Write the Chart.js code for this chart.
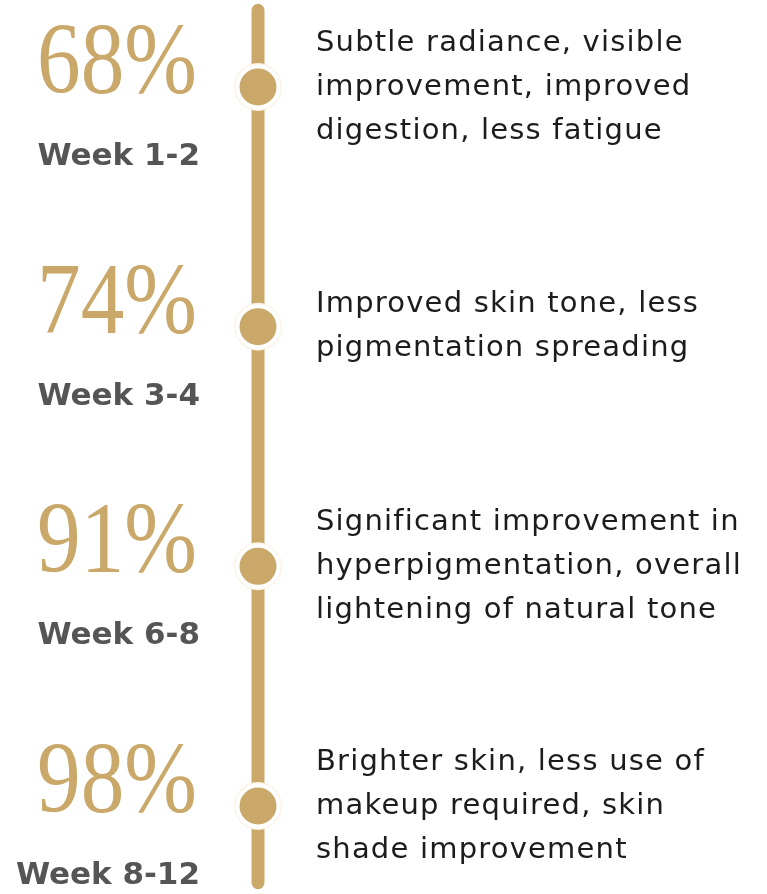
<!DOCTYPE html>
<html>
<head>
<meta charset="utf-8">
<script src="https://cdn.jsdelivr.net/npm/chart.js@4"></script>
<style>
  html, body { margin: 0; padding: 0; background: #fff; }
  #wrap { width: 767px; height: 894px; position: relative; }
</style>
</head>
<body>
<div id="wrap"><canvas id="timeline"></canvas></div>
<script>
// timeline data
const weeks = ['Week 1-2', 'Week 3-4', 'Week 6-8', 'Week 8-12'];
const percents = [68, 74, 91, 98];
const notes = [
    ['Subtle radiance, visible', 'improvement, improved', 'digestion, less fatigue'],
    ['Improved skin tone, less', 'pigmentation spreading'],
    ['Significant improvement in', 'hyperpigmentation, overall', 'lightening of natural tone'],
    ['Brighter skin, less use of', 'makeup required, skin', 'shade improvement']
];
// extent of the vertical track, in milestone units
const track = [-0.32, 3.32];

const GOLD = '#c9a86a';

const milestones = weeks.map((w, i) => ({ x: 0, y: i }));

// draws the percent, week and description next to each milestone
const labelPlugin = {
    id: 'labels',
    afterDatasetsDraw(chart) {
        const ctx = chart.ctx;
        const xs = chart.scales.x, ys = chart.scales.y;
        const cx = xs.getPixelForValue(0);
        ctx.save();
        weeks.forEach((w, i) => {
            const cy = ys.getPixelForValue(i);

            // big percentage, stretched a little to get the tall display look
            ctx.save();
            ctx.letterSpacing = '0px';
            ctx.translate(cx - 61, cy + 6);
            ctx.scale(0.97, 1.12);
            ctx.textAlign = 'right';
            ctx.textBaseline = 'alphabetic';
            ctx.fillStyle = GOLD;
            ctx.font = '90px "Liberation Serif", serif';
            ctx.fillText(percents[i] + '%', 0, 0);
            ctx.restore();

            ctx.letterSpacing = '0px';
            ctx.textAlign = 'right';
            ctx.textBaseline = 'alphabetic';
            ctx.fillStyle = '#555555';
            ctx.font = 'bold 31px "DejaVu Sans", sans-serif';
            ctx.fillText(w, cx - 58, cy + 78);

            ctx.textAlign = 'left';
            ctx.textBaseline = 'middle';
            ctx.fillStyle = '#1c1c1c';
            ctx.font = '29px "DejaVu Sans", sans-serif';
            ctx.letterSpacing = '1.2px';
            const lines = notes[i];
            const lh = 44;
            const top = cy - (lines.length - 1) * lh / 2;
            lines.forEach((t, j) => ctx.fillText(t, cx + 58, top + j * lh));
        });
        ctx.restore();
    }
};

const ctx = document.getElementById('timeline').getContext('2d');
new Chart(ctx, {
    type: 'scatter',
    data: {
        datasets: [
            {
                // dots
                data: milestones,
                pointRadius: 20.5,
                pointBackgroundColor: GOLD,
                pointBorderColor: '#ffffff',
                pointBorderWidth: 4,
                clip: false
            },
            {
                // faint halo behind the dots
                data: milestones,
                pointRadius: 24,
                pointBackgroundColor: '#fbf3e6',
                pointBorderWidth: 0,
                clip: false
            },
            {
                // the track
                data: track.map(v => ({ x: 0, y: v })),
                showLine: true,
                borderColor: GOLD,
                borderWidth: 13,
                borderCapStyle: 'round',
                pointRadius: 0,
                clip: false
            }
        ]
    },
    options: {
        responsive: true,
        maintainAspectRatio: false,
        animation: false,
        layout: { padding: 0, autoPadding: false },
        plugins: {
            legend: { display: false },
            tooltip: { enabled: false }
        },
        scales: {
            x: { type: 'linear', display: false, min: -258, max: 509 },
            y: { type: 'linear', display: false, reverse: true, min: -0.363, max: 3.367 }
        }
    },
    plugins: [labelPlugin]
});
</script>
</body>
</html>
